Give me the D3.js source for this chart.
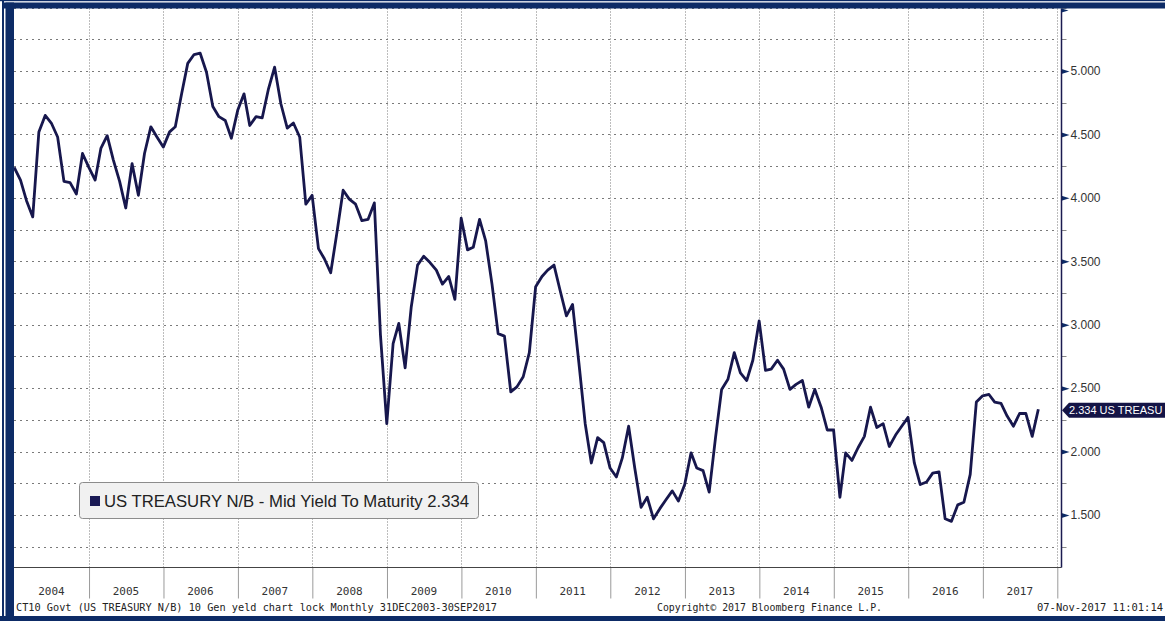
<!DOCTYPE html>
<html>
<head>
<meta charset="utf-8">
<script src="https://cdn.jsdelivr.net/npm/d3@7"></script>
<style>
  html, body { margin: 0; padding: 0; background: #fff; }
  svg { display: block; }
</style>
</head>
<body>
<svg id="chart" width="1165" height="621"></svg>
<script>
// ---------------- DATA ----------------
// Monthly 10Y US Treasury yield, month-end, 31 Dec 2003 .. 30 Sep 2017
const firstMonthEnd = [2003, 11]; // December 2003 (year, zero-based month)
const yields = [
  4.24, 4.14, 3.98, 3.85, 4.52, 4.65, 4.59, 4.48, 4.13, 4.12, 4.03, 4.35,
  4.24, 4.14, 4.39, 4.49, 4.30, 4.13, 3.92, 4.27, 4.02, 4.35, 4.56, 4.48,
  4.40, 4.52, 4.56, 4.82, 5.06, 5.13, 5.14, 4.99, 4.72, 4.64, 4.61, 4.47,
  4.69, 4.82, 4.57, 4.64, 4.63, 4.86, 5.03, 4.74, 4.55, 4.59, 4.48, 3.95,
  4.02, 3.60, 3.52, 3.41, 3.72, 4.06, 3.99, 3.95, 3.82, 3.83, 3.96, 2.92,
  2.22, 2.85, 3.01, 2.66, 3.14, 3.47, 3.54, 3.49, 3.43, 3.32, 3.38, 3.20,
  3.84, 3.59, 3.61, 3.83, 3.66, 3.32, 2.93, 2.91, 2.47, 2.51, 2.59, 2.78,
  3.30, 3.38, 3.43, 3.47, 3.27, 3.07, 3.16, 2.70, 2.22, 1.91, 2.11, 2.07,
  1.87, 1.80, 1.95, 2.20, 1.87, 1.56, 1.64, 1.47, 1.55, 1.62, 1.69, 1.61,
  1.74, 1.99, 1.87, 1.85, 1.68, 2.11, 2.49, 2.57, 2.78, 2.62, 2.56, 2.72,
  3.03, 2.64, 2.65, 2.72, 2.65, 2.49, 2.53, 2.56, 2.35, 2.49, 2.35, 2.17,
  2.17, 1.64, 1.99, 1.93, 2.03, 2.12, 2.35, 2.19, 2.22, 2.04, 2.13, 2.20,
  2.27, 1.91, 1.74, 1.76, 1.83, 1.84, 1.47, 1.45, 1.58, 1.60, 1.82, 2.39,
  2.44, 2.45, 2.39, 2.38, 2.28, 2.20, 2.30, 2.30, 2.12, 2.334
];
const years = ["2004","2005","2006","2007","2008","2009","2010","2011","2012","2013","2014","2015","2016","2017"];
const yTicks = [1.5, 2.0, 2.5, 3.0, 3.5, 4.0, 4.5, 5.0];
const yMinorTicks = [1.25, 1.75, 2.25, 2.75, 3.25, 3.75, 4.25, 4.75, 5.25, 5.5];
const lastValue = 2.334;
const legendText = "US TREASURY N/B  - Mid Yield To Maturity 2.334";
const tagText = "2.334 US TREASU";
const footerLeft = "CT10 Govt (US TREASURY N/B) 10 Gen yeld chart lock  Monthly 31DEC2003-30SEP2017";
const footerMid = "Copyright\u00A9 2017 Bloomberg Finance L.P.";
const footerRight = "07-Nov-2017 11:01:14";

// ---------------- LAYOUT ----------------
const NAVY = "#0d2b66";
const LINE = "#17174d";
const plot = { left: 14, right: 1061.5, top: 8.5, bottom: 567.5 };

const svg = d3.select("#chart");

const data = yields.map((v, i) => ({
  date: new Date(firstMonthEnd[0], firstMonthEnd[1] + i + 1, 0),
  value: v
}));

const x = d3.scaleTime()
  .domain([new Date(2004, 0, 1), new Date(2018, 0, 1)])
  .range([14.4, 1057.3]);
const y = d3.scaleLinear()
  .domain([1.5, 5.0])
  .range([515, 71]);

svg.append("rect").attr("x", 0).attr("y", 0).attr("width", 1165).attr("height", 621).attr("fill", "#fff");

// gridlines
const grid = svg.append("g");
grid.selectAll("line.h")
  .data(yTicks.concat(yMinorTicks))
  .join("line")
  .attr("x1", plot.left).attr("x2", 1057.5)
  .attr("y1", d => Math.round(y(d)) + 0.5).attr("y2", d => Math.round(y(d)) + 0.5)
  .attr("stroke", "#7a7a7a").attr("stroke-width", 1)
  .attr("stroke-dasharray", "2,4");

const yearStarts = years.map(yy => new Date(+yy, 0, 1)).slice(1).concat([new Date(2018, 0, 1)]);
grid.selectAll("line.v")
  .data(yearStarts)
  .join("line")
  .attr("x1", d => Math.round(x(d)) + 0.5).attr("x2", d => Math.round(x(d)) + 0.5)
  .attr("y1", plot.top).attr("y2", plot.bottom)
  .attr("stroke", "#7a7a7a").attr("stroke-width", 1)
  .attr("stroke-dasharray", "1,2");

// bottom axis (year separators)
const xAxis = d3.axisBottom(x)
  .tickValues(yearStarts)
  .tickSize(31)
  .tickFormat("");
const gx = svg.append("g")
  .attr("transform", `translate(0,${plot.bottom})`)
  .call(xAxis);
gx.select(".domain").remove();
gx.selectAll(".tick line").attr("stroke", "#9a9a9a");
svg.append("line")
  .attr("x1", plot.left).attr("x2", plot.right)
  .attr("y1", plot.bottom).attr("y2", plot.bottom)
  .attr("stroke", "#444").attr("stroke-width", 1);

// year labels
svg.append("g").selectAll("text")
  .data(years)
  .join("text")
  .attr("x", d => x(new Date(+d, 6, 1)))
  .attr("y", 595)
  .attr("text-anchor", "middle")
  .attr("font-family", "'DejaVu Sans Mono', monospace")
  .attr("font-size", 11)
  .attr("fill", "#333")
  .text(d => d);

// right axis
const yAxis = d3.axisRight(y)
  .tickValues(yTicks)
  .tickSize(0)
  .tickPadding(9)
  .tickFormat(d3.format(".3f"));
const gy = svg.append("g")
  .attr("transform", `translate(${plot.right},0)`)
  .call(yAxis);
gy.select(".domain").remove();
gy.selectAll(".tick text")
  .attr("font-family", "'Liberation Sans', Arial, sans-serif")
  .attr("font-size", 12)
  .attr("fill", "#333");
gy.selectAll(".tick").append("path")
  .attr("d", "M0,-2.5 L8,0 L0,2.5 Z")
  .attr("fill", NAVY);
svg.append("g").selectAll("line")
  .data(yMinorTicks)
  .join("line")
  .attr("x1", plot.right).attr("x2", plot.right + 5)
  .attr("y1", d => Math.round(y(d)) + 0.5).attr("y2", d => Math.round(y(d)) + 0.5)
  .attr("stroke", "#888");
svg.append("line")
  .attr("x1", plot.right).attr("x2", plot.right)
  .attr("y1", plot.top).attr("y2", plot.bottom)
  .attr("stroke", "#1b1b50").attr("stroke-width", 1.5);
svg.append("path")
  .attr("d", `M${plot.right},${plot.top} L${plot.right + 7},${plot.top + 2} L${plot.right},${plot.top + 4} Z`)
  .attr("fill", NAVY);

// series line
svg.append("defs").append("clipPath").attr("id", "clip")
  .append("rect").attr("x", plot.left).attr("y", plot.top)
  .attr("width", plot.right - plot.left).attr("height", plot.bottom - plot.top);
svg.append("path")
  .datum(data)
  .attr("clip-path", "url(#clip)")
  .attr("fill", "none")
  .attr("stroke", LINE)
  .attr("stroke-width", 2.8)
  .attr("stroke-linejoin", "round")
  .attr("d", d3.line().x(d => x(d.date)).y(d => y(d.value)));

// last value tag
const ty = y(lastValue) + 1;
svg.append("path")
  .attr("d", `M${plot.right + 0.5},${ty} L${plot.right + 7.5},${ty - 7.5} L1165,${ty - 7.5} L1165,${ty + 7.5} L${plot.right + 7.5},${ty + 7.5} Z`)
  .attr("fill", "#141446");
svg.append("text")
  .attr("x", 1069).attr("y", ty + 4)
  .attr("font-family", "'Liberation Sans', Arial, sans-serif")
  .attr("font-size", 11)
  .attr("fill", "#fff")
  .text(tagText);

// legend
svg.append("rect")
  .attr("x", 79.5).attr("y", 482.5).attr("width", 399).attr("height", 36)
  .attr("rx", 3).attr("ry", 3)
  .attr("fill", "#f1f1f1").attr("stroke", "#8c8c8c");
svg.append("rect")
  .attr("x", 90).attr("y", 496).attr("width", 10).attr("height", 10)
  .attr("fill", "#1a1a55");
svg.append("text")
  .attr("x", 104).attr("y", 507)
  .attr("font-family", "'Liberation Sans', Arial, sans-serif")
  .attr("font-size", 16)
  .attr("fill", "#222")
  .attr("textLength", 365)
  .attr("lengthAdjust", "spacingAndGlyphs")
  .text(legendText);

// footer
const ff = "'DejaVu Sans Mono', monospace";
svg.append("text").attr("x", 16).attr("y", 611)
  .attr("font-family", ff).attr("font-size", 10.5).attr("fill", "#222")
  .attr("textLength", 481).attr("lengthAdjust", "spacingAndGlyphs")
  .text(footerLeft);
svg.append("text").attr("x", 657).attr("y", 611)
  .attr("font-family", ff).attr("font-size", 10.5).attr("fill", "#222")
  .attr("textLength", 225).attr("lengthAdjust", "spacingAndGlyphs")
  .text(footerMid);
svg.append("text").attr("x", 1037).attr("y", 611)
  .attr("font-family", ff).attr("font-size", 10.5).attr("fill", "#222")
  .attr("textLength", 126).attr("lengthAdjust", "spacingAndGlyphs")
  .text(footerRight);

// outer frame bands
svg.append("rect").attr("x", 0).attr("y", 0).attr("width", 1165).attr("height", 1.2).attr("fill", NAVY);
svg.append("rect").attr("x", 2).attr("y", 2.5).attr("width", 1163).attr("height", 6).attr("fill", NAVY);
svg.append("rect").attr("x", 2).attr("y", 0).attr("width", 2).attr("height", 621).attr("fill", NAVY);
svg.append("rect").attr("x", 5.5).attr("y", 2.5).attr("width", 8.5).attr("height", 618.5).attr("fill", NAVY);
svg.append("rect").attr("x", 0).attr("y", 616).attr("width", 1165).attr("height", 5).attr("fill", NAVY);
</script>
</body>
</html>
